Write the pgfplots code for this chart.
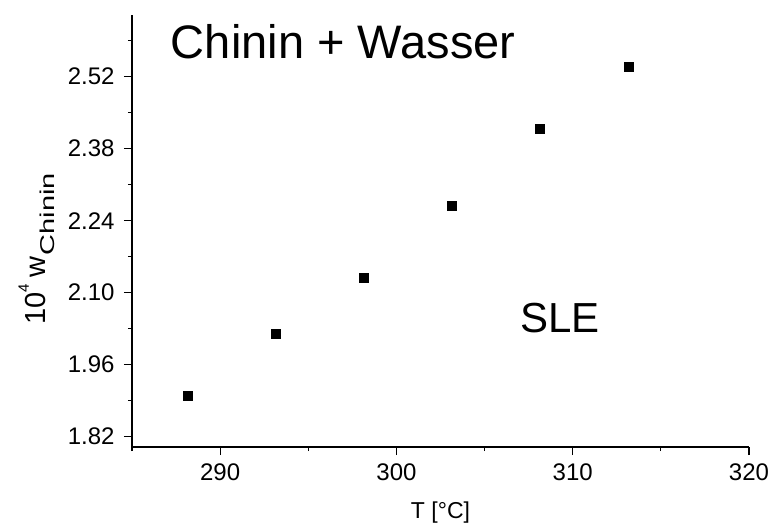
\documentclass[border=0pt]{standalone}
\usepackage{fontspec}
\setmainfont{Liberation Sans}
\usepackage{pgfplots}
\pgfplotsset{compat=1.18}

\begin{document}
\begin{tikzpicture}
\useasboundingbox (-132pt,-78pt) rectangle (638pt,447pt);
\begin{axis}[
    scale only axis,
    width=617pt, height=432pt,
    xmin=285, xmax=320, ymin=1.80, ymax=2.64,
    axis x line*=bottom, axis y line*=left,
    axis line style={line width=1.3pt, -},
    xtick={290,300,310,320},
    minor xtick={285,295,305,315},
    ytick={1.82,1.96,2.10,2.24,2.38,2.52},
    minor ytick={1.89,2.03,2.17,2.31,2.45,2.59},
    tick align=outside,
    major tick length=8pt, minor tick length=4pt,
    every tick/.style={line width=1.2pt, black},
    /pgf/number format/assume math mode=true,
    ticklabel style={font=\fontsize{24}{27}\selectfont},
    xticklabel style={yshift=-5pt},
    yticklabel style={xshift=-6pt, /pgf/number format/.cd, fixed, fixed zerofill, precision=2},
    xlabel={T [°C]},
    xlabel style={font=\fontsize{23}{26}\selectfont, yshift=-14pt},
    ylabel={10\raisebox{17pt}{\fontsize{15}{17}\selectfont 4}\hspace{7pt}w\hspace{1pt}\raisebox{-9pt}{\fontsize{20}{22}\selectfont\scalebox{1.45}[1]{Chinin}}},
    ylabel style={font=\fontsize{29}{32}\selectfont,
        at={(axis description cs:-0.1394,0.282)}, anchor=base west, inner sep=0pt},
    clip=false,
]
\addplot[only marks, mark=square*, mark size=4.5pt, black] coordinates {
    (288.15,1.900) (293.15,2.020) (298.15,2.130)
    (303.15,2.269) (308.15,2.419) (313.15,2.539)
};
\node[anchor=base west, inner sep=0pt, font=\fontsize{47}{52}\selectfont]
    at (axis cs:287.2,2.556) {Chinin + Wasser};
\node[anchor=base west, inner sep=0pt, font=\fontsize{42}{46}\selectfont]
    at (axis cs:307.0,2.023) {SLE};
\end{axis}
\end{tikzpicture}
\end{document}
